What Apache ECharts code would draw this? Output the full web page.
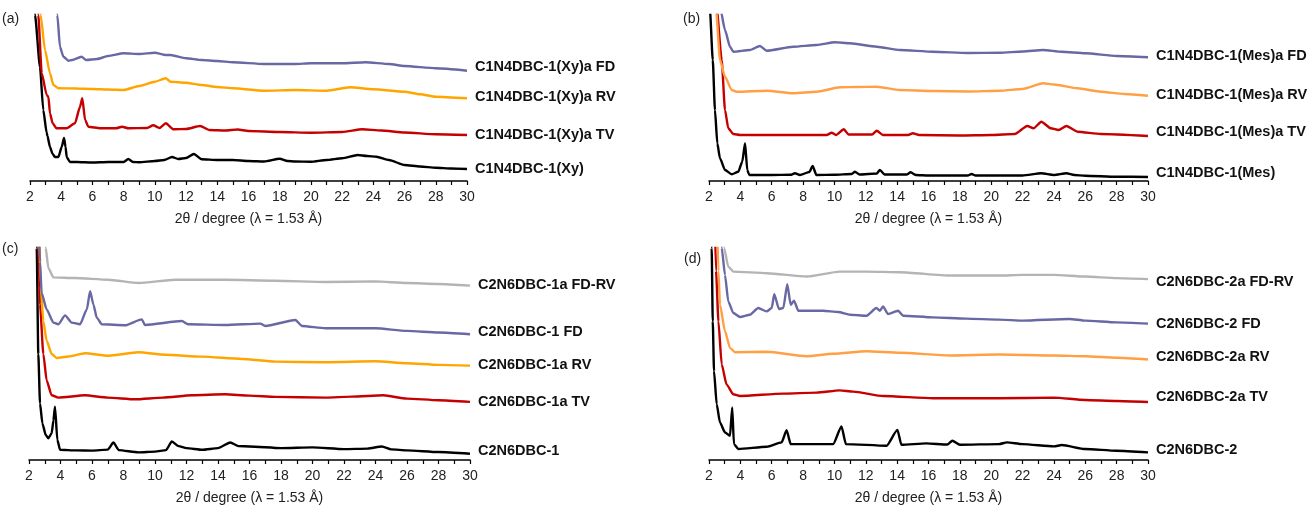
<!DOCTYPE html>
<html>
<head>
<meta charset="utf-8">
<title>PXRD</title>
<script src="https://cdn.jsdelivr.net/npm/echarts@6/dist/echarts.min.js"></script>
<style>
  html, body { margin: 0; padding: 0; background: #fff; }
  #chart { width: 1309px; height: 506px; }
</style>
</head>
<body>
<div id="chart"></div>
<script>
// x axis ticks (2θ, degree)
let xMin = 2, xMax = 30, xStep = 2;
let xName = '2θ / degree (λ = 1.53 Å)';

// panel (a): [2θ, intensity, offset included]
let a_Xy = [[2.2,200],[2.32,166],[2.64,114],[2.85,71],[3.07,48],[3.12,45],[3.28,34],[3.45,27],[3.6,24],[3.82,24],[4.03,34],[4.18,43],[4.28,34],[4.35,24],[4.56,19],[5,19],[6,18.5],[7,19],[8,19],[8.3,22],[8.6,19],[9,18.7],[10,20],[10.6,21],[11.1,24],[11.5,22],[12,23],[12.5,27],[13,21.7],[14,21],[15,21],[16,20],[17,19.5],[18,22.3],[18.5,20],[19,19.5],[20,19.3],[21,21],[22,22.7],[23,26],[23.6,25],[24.2,24.3],[25,21],[26,16],[27,14.5],[28,13.3],[29,12.5],[30,12]];
let a_TV = [[2.4,200],[2.53,166],[2.75,107.7],[3.07,86],[3.18,84],[3.28,67.7],[3.45,57.7],[3.7,52.7],[4.35,52.7],[4.88,57.7],[5.2,74],[5.35,82.7],[5.53,61],[5.74,54.3],[6.5,52.7],[7.5,52.7],[7.9,54.3],[8.3,52.7],[9.5,53],[9.9,55.7],[10.3,53],[10.7,57.7],[11.2,51.7],[12,52],[12.9,55],[13.5,51],[14.5,50.5],[15.3,51.5],[16,50],[18,49],[20,48.3],[22,49],[23.3,51.7],[24.5,50.5],[26,48.5],[28,46.7],[30,46]];
let a_RV = [[2.55,200],[2.68,166],[2.96,131],[3.28,107.7],[3.5,96],[3.82,92.7],[5,92.5],[6,92],[7,91.5],[8,91],[9,95],[10,99.3],[10.7,102.7],[11,99.3],[12,98.3],[13,96],[14,94],[15,92.7],[17,90.3],[19,91],[21,90.3],[22.5,93.7],[24,91.7],[26,89.3],[27,86.7],[28,84.3],[30,82.7]];
let a_FD = [[3.65,200],[3.75,166],[3.92,134.3],[4.14,124.3],[4.46,120.3],[4.7,121],[5.3,124.3],[5.6,121],[6.3,122],[7,125],[8,127.7],[9,127],[10,128.3],[10.7,126],[11,126],[12,122.7],[13,121],[14,120],[15,118.7],[17,117],[19,117],[20,117.7],[22,117.7],[23.5,118.7],[25,117],[26,115],[28,112.7],[30,110.3]];

// panel (b)
let b_Mes = [[2.0,200],[2.06,171],[2.24,121],[2.38,71],[2.53,37.7],[2.7,22.7],[3.02,11],[3.45,6.7],[3.87,9.3],[4.12,19.3],[4.3,37.7],[4.44,11],[4.57,6],[6,6],[7.2,6.2],[7.48,7.7],[7.8,6],[8.4,9],[8.61,15],[8.85,6],[10,6.2],[11.1,7],[11.31,9.3],[11.6,6.5],[12.7,7.5],[12.9,11],[13.2,6.5],[14.6,6.5],[14.86,8.7],[15.2,6],[16,5.5],[18.5,5.5],[18.75,7],[19,5.5],[22,5.5],[23.2,7.7],[24,6],[24.8,7.7],[25.3,6],[26,5.3],[28,4.3],[30,4]];
let b_TV = [[2.45,200],[2.5,171],[2.81,121],[3.02,71],[3.23,52.7],[3.55,47],[4,46],[6,46],[8,46],[9.5,46],[9.82,48.3],[10.1,46],[10.6,51.7],[10.9,46.5],[12.4,46.5],[12.7,50.3],[13.1,46],[14.7,46],[15.0,47.7],[15.4,46],[18,45.5],[20,46],[21.5,47],[22.3,55],[22.7,52.7],[23.2,59.3],[23.8,52.7],[24.3,51],[24.8,55],[25.5,49.3],[27,47],[30,45]];
let b_RV = [[2.4,200],[2.45,171],[2.7,121],[3.02,104.3],[3.45,91],[3.76,89.3],[5.68,90.3],[7.38,87.7],[8.86,89.3],[10.37,93.7],[11.5,94],[12.7,94.3],[14.18,91],[16.3,90],[18.5,89.5],[20.56,90.3],[22,92],[23.3,97.7],[24,96.5],[25.5,92.7],[27,89.3],[28.5,87],[30,85.3]];
let b_FD = [[2.7,200],[2.74,171],[3.02,151],[3.34,134.3],[3.55,129.3],[4.61,131],[5.25,135],[5.68,130.3],[7.38,134.3],[8.86,136],[10.04,138.7],[10.99,137.7],[12.7,134.3],[14.18,131],[16.3,129.3],[18.5,128],[20.56,128.3],[22,129.5],[23.3,131],[24.5,129.3],[26,127.7],[28,125],[30,123.7]];

// panel (c)
let c_1 = [[2.45,250],[2.49,214],[2.59,107],[2.7,57],[2.85,37],[3.06,25.3],[3.23,22],[3.44,27],[3.55,40],[3.65,53.7],[3.8,20.3],[3.97,10.3],[5,9.7],[6,9.5],[7,10.5],[7.36,17.7],[7.7,10],[8.95,7.7],[10,8.5],[10.7,10],[11.07,18.7],[11.5,14],[12,12],[13,10.3],[14,12],[14.78,17.7],[15.3,14],[16,13.7],[18,12],[20,12.7],[22,11],[23.5,11.5],[24.4,13.7],[25,10.7],[26,9.7],[28,8],[30,6.3]];
let c_TV = [[2.55,250],[2.6,214],[2.7,157],[2.91,107],[3.12,80.3],[3.44,65.3],[3.86,63],[5.56,65.3],[7,63],[8.74,61.3],[10.5,63],[12.34,65.3],[14.46,66.3],[16,65],[17.64,63.7],[20.82,63],[22.5,64],[24.5,65.3],[26,62],[28,60.3],[30,58.7]];
let c_RV = [[2.62,250],[2.75,175],[2.91,140],[3.12,120.3],[3.44,107],[3.76,103],[4.5,104.5],[5.56,107.7],[7.04,105.3],[8.95,108.7],[10.65,106.3],[12.98,104.3],[15.52,102],[17.64,99.3],[20.82,98.7],[24,99.7],[26,97.7],[28,96],[30,95.3]];
let c_FD = [[2.6,250],[2.7,200],[2.8,168.7],[3.12,152],[3.55,138.7],[3.86,137],[4.29,146],[4.71,138.7],[5.24,137],[5.67,152],[5.88,170.3],[6.09,157],[6.3,143.7],[6.62,137],[8.1,136],[9.16,142],[9.37,136.3],[11.71,140.3],[12.1,137],[14.46,136.3],[16.69,137.7],[17,135.3],[18.91,141.3],[19.34,135.3],[20.82,133],[22,133],[24,133],[26,130.3],[28,128.7],[30,127]];
let c_FDRV = [[2.95,250],[3.06,214],[3.23,193.7],[3.55,184.3],[4.92,183.7],[7.04,182],[8.95,178.7],[11.28,182],[14.46,182],[17.64,181],[20.82,179.7],[24,180.3],[26,178.7],[28,177.7],[30,176]];

// panel (d)
let d_2 = [[2.12,250],[2.17,213],[2.24,139.3],[2.32,89.3],[2.49,56],[2.7,37.7],[3.02,27.7],[3.34,24.3],[3.48,52.7],[3.59,16],[3.87,11],[5.68,13.3],[6.63,17.7],[6.95,30],[7.21,16],[9.92,16],[10.45,33.7],[10.73,16],[13.32,14.3],[14.02,30.3],[14.27,15.3],[15.86,16.7],[17.2,15.5],[17.52,19.3],[18,15.3],[20.5,16],[21,17.7],[22,16],[24,13.7],[24.5,15],[26,11],[28,9.3],[30,7.7]];
let d_TV = [[2.35,250],[2.45,190],[2.6,139.3],[2.81,96],[3.12,76],[3.55,66],[3.98,64.3],[6.74,66.7],[8.86,67.7],[10.34,70],[11.2,68.7],[13.12,64.3],[16.29,62],[20.5,62],[24,62.7],[26,60.3],[28,59.3],[30,58.3]];
let d_RV = [[2.5,250],[2.6,190],[2.7,156],[3.02,129.3],[3.34,112.7],[3.66,108.3],[5.68,108.7],[8.23,104.3],[9.92,106.7],[12.05,109.3],[14.18,107.7],[17.35,105],[20.5,106],[24,105],[26,104.3],[28,102.7],[30,101]];
let d_FD = [[2.75,250],[2.81,213],[3.02,186],[3.23,159.3],[3.55,147.7],[3.98,143.7],[4.61,146],[5.14,152.7],[5.68,149.3],[6.0,152.7],[6.16,166.7],[6.46,151.7],[6.74,152.7],[6.99,176.7],[7.21,156],[7.42,160],[7.7,150],[9.28,150],[10.24,148.7],[11,146],[12.05,145],[12.68,152.7],[12.9,150],[13.1,154.3],[13.42,146.7],[14.06,150],[14.38,145],[16.29,143.3],[18.4,142],[20.5,141],[22,140],[25,141.7],[26,140],[28,138.3],[30,137]];
let d_FDRV = [[2.9,250],[2.96,213],[3.23,194.3],[3.55,189.3],[5.68,187.7],[8.23,184.3],[10.34,189.3],[12.05,189.3],[14.18,188.7],[17.35,185.3],[20.5,185.3],[22,186],[24,186],[26,184.3],[28,182.7],[30,181.7]];

let font = 'Liberation Sans, Arial, sans-serif';
let BLACK = '#000000', RED = '#c40000', PURPLE = '#6868a4', GRAY = '#b4b4b4';
let ORANGE1 = '#ffa500', ORANGE2 = '#ffa045';

// grid boxes (px) and y range per panel
let panels = [
  { left: 30, top: 15, width: 437, height: 166, ymax: 166, tag: '(a)', tagX: 2, tagY: 12 },
  { left: 709, top: 15, width: 439, height: 166, ymax: 166, tag: '(b)', tagX: 683, tagY: 12 },
  { left: 29, top: 248, width: 441, height: 214, ymax: 214, tag: '(c)', tagX: 2, tagY: 242 },
  { left: 709, top: 248, width: 439, height: 213, ymax: 213, tag: '(d)', tagX: 684, tagY: 252 }
];

let lines = [
  { p: 0, name: 'C1N4DBC-1(Xy)', data: a_Xy, color: BLACK, dy: 0 },
  { p: 0, name: 'C1N4DBC-1(Xy)a TV', data: a_TV, color: RED, dy: 0 },
  { p: 0, name: 'C1N4DBC-1(Xy)a RV', data: a_RV, color: ORANGE1, dy: -1 },
  { p: 0, name: 'C1N4DBC-1(Xy)a FD', data: a_FD, color: PURPLE, dy: -4 },
  { p: 1, name: 'C1N4DBC-1(Mes)', data: b_Mes, color: BLACK, dy: -4 },
  { p: 1, name: 'C1N4DBC-1(Mes)a TV', data: b_TV, color: RED, dy: -4 },
  { p: 1, name: 'C1N4DBC-1(Mes)a RV', data: b_RV, color: ORANGE2, dy: -1 },
  { p: 1, name: 'C1N4DBC-1(Mes)a FD', data: b_FD, color: PURPLE, dy: -1 },
  { p: 2, name: 'C2N6DBC-1', data: c_1, color: BLACK, dy: -3 },
  { p: 2, name: 'C2N6DBC-1a TV', data: c_TV, color: RED, dy: 0 },
  { p: 2, name: 'C2N6DBC-1a RV', data: c_RV, color: ORANGE1, dy: -1 },
  { p: 2, name: 'C2N6DBC-1 FD', data: c_FD, color: PURPLE, dy: -2 },
  { p: 2, name: 'C2N6DBC-1a FD-RV', data: c_FDRV, color: GRAY, dy: -1 },
  { p: 3, name: 'C2N6DBC-2', data: d_2, color: BLACK, dy: -2 },
  { p: 3, name: 'C2N6DBC-2a TV', data: d_TV, color: RED, dy: -5 },
  { p: 3, name: 'C2N6DBC-2a RV', data: d_RV, color: ORANGE2, dy: -2 },
  { p: 3, name: 'C2N6DBC-2 FD', data: d_FD, color: PURPLE, dy: 0 },
  { p: 3, name: 'C2N6DBC-2a FD-RV', data: d_FDRV, color: GRAY, dy: 3 }
];

let chart = echarts.init(document.getElementById('chart'), null, { renderer: 'canvas' });

let grids = [], xAxes = [], yAxes = [], graphics = [];
panels.forEach(function(pn, i) {
  grids.push({ left: pn.left, top: pn.top, width: pn.width, height: pn.height, containLabel: false });
  xAxes.push({
    type: 'value', gridIndex: i, min: xMin, max: xMax, interval: xStep,
    name: xName, nameLocation: 'middle', nameGap: 31,
    nameTextStyle: { fontFamily: font, fontSize: 14, color: '#222' },
    axisLine: { show: true, onZero: false, lineStyle: { color: '#000', width: 1.5 } },
    axisTick: { show: true, length: 4, lineStyle: { color: '#000', width: 1.2 } },
    minorTick: { show: true, splitNumber: 2, length: 4, lineStyle: { color: '#000', width: 1.2 } },
    axisLabel: { fontFamily: font, fontSize: 14, color: '#222', margin: 9 },
    splitLine: { show: false }
  });
  yAxes.push({ type: 'value', gridIndex: i, min: 0, max: pn.ymax, show: false, splitLine: { show: false } });
  graphics.push({
    type: 'text', left: pn.tagX, top: pn.tagY,
    style: { text: pn.tag, font: '14px ' + font, fill: '#222' }
  });
});

let series = lines.map(function(l) {
  return {
    type: 'line', name: l.name, xAxisIndex: l.p, yAxisIndex: l.p,
    data: l.data, showSymbol: false, symbol: 'none', clip: true,
    smooth: 0.2, smoothMonotone: 'x',
    lineStyle: { color: l.color, width: 2.4 },
    itemStyle: { color: l.color },
    endLabel: {
      show: true, formatter: '{a}', distance: 8, offset: [0, l.dy],
      fontFamily: font, fontSize: 14.5, fontWeight: 'bold', color: '#111'
    },
    animation: false
  };
});

chart.setOption({
  animation: false,
  grid: grids,
  xAxis: xAxes,
  yAxis: yAxes,
  graphic: graphics,
  series: series
});
</script>
</body>
</html>
